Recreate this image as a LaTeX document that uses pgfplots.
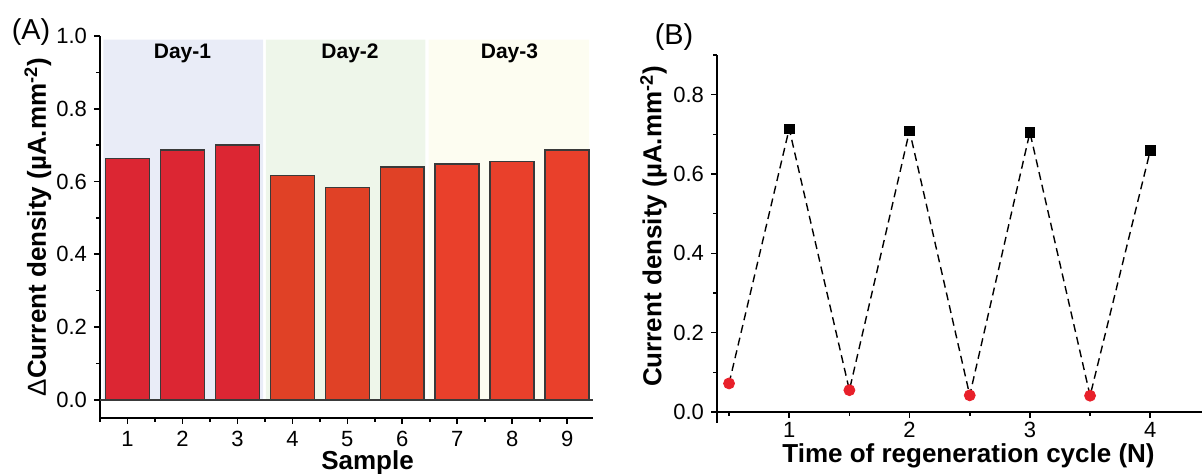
\documentclass[border=0pt]{standalone}
\usepackage{fontspec}
\setmainfont{Liberation Sans}
\usepackage{pgfplots}
\pgfplotsset{compat=1.18}
\definecolor{dayone}{HTML}{E9ECF7}
\definecolor{daytwo}{HTML}{EEF6EA}
\definecolor{daythree}{HTML}{FDFDF1}
\definecolor{barone}{HTML}{DC2633}
\definecolor{bartwo}{HTML}{E04126}
\definecolor{barthree}{HTML}{E9402B}
\definecolor{baredge}{HTML}{3A3A3A}
\definecolor{dotred}{HTML}{E8202A}
\pgfplotsset{
  common/.style={
    scale only axis,
    clip=false,
    axis x line*=bottom,
    axis y line*=left,
    axis line style={-, line width=0.9pt, black},
    tick align=outside,
    major tick length=3pt,
    minor tick length=2pt,
    every tick/.style={line width=0.8pt, black},
    /pgf/number format/assume math mode=true,
    tick label style={font=\fontsize{11}{13}\selectfont},
    label style={font=\bfseries\fontsize{13}{15}\selectfont},
    yticklabel style={/pgf/number format/fixed, /pgf/number format/fixed zerofill, /pgf/number format/precision=1},
  }
}
\begin{document}
\begin{tikzpicture}
\useasboundingbox (0pt,0pt) rectangle (601.5pt,237pt);
% Panel A
\begin{axis}[common,
  at={(50pt,28pt)}, anchor=south west, width=246.5pt, height=191pt,
  xmin=0.5, xmax=9.47, ymin=-0.05, ymax=1.0,
  xtick={1,...,9}, minor xtick={0.5,1.5,...,9.5},
  ytick={0,0.2,...,1.0}, minor ytick={0.1,0.3,0.5,0.7,0.9},
  xlabel={Sample},
  xlabel style={at={(axis description cs:0.5,0)}, anchor=center, xshift=10.5pt, yshift=-22.5pt},
  ylabel={{\mdseries Δ}Current density (µA.mm\textsuperscript{-2})},
  ylabel style={at={(axis description cs:-0.126,0.5)}, anchor=center},
]
\addplot[fill=dayone, draw=none] coordinates {(0.56,0)(0.56,0.99)(3.47,0.99)(3.47,0)} \closedcycle;
\addplot[fill=daytwo, draw=none] coordinates {(3.52,0)(3.52,0.99)(6.42,0.99)(6.42,0)} \closedcycle;
\addplot[fill=daythree, draw=none] coordinates {(6.48,0)(6.48,0.99)(9.40,0.99)(9.40,0)} \closedcycle;
\addplot[ybar, bar shift=0pt, bar width=0.8, fill=barone, draw=baredge, line width=0.8pt]
  coordinates {(1,0.663)(2,0.687)(3,0.700)};
\addplot[ybar, bar shift=0pt, bar width=0.8, fill=bartwo, draw=baredge, line width=0.8pt]
  coordinates {(4,0.617)(5,0.584)(6,0.640)};
\addplot[ybar, bar shift=0pt, bar width=0.8, fill=barthree, draw=baredge, line width=0.8pt]
  coordinates {(7,0.648)(8,0.655)(9,0.686)};
\addplot[baredge, line width=0.9pt] coordinates {(0.5,0)(9.47,0)};
\node[font=\bfseries\fontsize{10.5}{12}\selectfont] at (axis cs:2,0.953) {Day-1};
\node[font=\bfseries\fontsize{10.5}{12}\selectfont] at (axis cs:5.05,0.953) {Day-2};
\node[font=\bfseries\fontsize{10.5}{12}\selectfont] at (axis cs:7.95,0.953) {Day-3};
\end{axis}
\node[font=\fontsize{14.4}{16}\selectfont] at (15.5pt,221pt) {(A)};
% Panel B
\begin{axis}[common,
  at={(358.5pt,31pt)}, anchor=south west, width=242.5pt, height=178.5pt,
  xmin=0.4, xmax=4.43, ymin=0, ymax=0.9,
  xtick={1,2,3,4}, minor xtick={0.5,1.5,2.5,3.5},
  ytick={0,0.2,...,0.8}, minor ytick={0.1,0.3,0.5,0.7,0.9},
  xticklabel style={yshift=1.5pt},
  xlabel={Time of regeneration cycle (N)},
  xlabel style={at={(axis description cs:0.5,0)}, anchor=center, xshift=4.5pt, yshift=-22pt},
  ylabel={Current density (µA.mm\textsuperscript{-2})},
  ylabel style={at={(axis description cs:-0.131,0.52)}, anchor=center},
]
\addplot[black, line width=0.7pt, dash pattern=on 4pt off 2.5pt]
  coordinates {(0.5,0.072)(1,0.714)(1.5,0.055)(2,0.709)(2.5,0.042)(3,0.705)(3.5,0.041)(4,0.659)};
\addplot[only marks, mark=*, mark size=2.75pt, mark options={fill=dotred, draw=dotred}]
  coordinates {(0.5,0.072)(1.5,0.055)(2.5,0.042)(3.5,0.041)};
\addplot[only marks, mark=square*, mark size=2.4pt, mark options={fill=black, draw=black}]
  coordinates {(1,0.714)(2,0.709)(3,0.705)(4,0.659)};
\draw[line width=0.9pt] (axis cs:0.4,0) -- ++(0pt,-5.5pt);
\end{axis}
\node[font=\fontsize{14.4}{16}\selectfont] at (337pt,218.5pt) {(B)};
\end{tikzpicture}
\end{document}
